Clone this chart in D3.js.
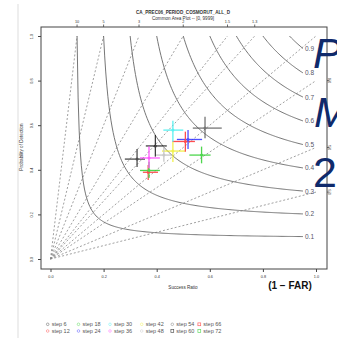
<!DOCTYPE html>
<html>
<head>
<meta charset="utf-8">
<script src="https://cdn.jsdelivr.net/npm/d3@7"></script>
<style>
  html, body { margin: 0; padding: 0; background: #fff; }
  svg { display: block; font-family: "Liberation Sans", Arial, sans-serif; }
</style>
</head>
<body>
<svg id="chart" width="337" height="347"></svg>
<script>
// forecast steps shown in the legend
const steps = [6, 12, 18, 24, 30, 36, 42, 48, 54, 60, 66, 72];
// success ratio (1 - FAR) and its spread
const successRatio = [0.326, 0.368, 0.371, 0.518, 0.461, 0.371, 0.461, 0.427, 0.582, 0.395, 0.508, 0.569];
const srLow  = [0.280, 0.348, 0.337, 0.476, 0.425, 0.337, 0.420, 0.394, 0.536, 0.359, 0.459, 0.523];
const srHigh = [0.356, 0.405, 0.412, 0.571, 0.500, 0.412, 0.507, 0.461, 0.645, 0.438, 0.544, 0.603];
// probability of detection and its spread
const pod     = [0.448, 0.389, 0.397, 0.536, 0.578, 0.453, 0.484, 0.466, 0.587, 0.507, 0.527, 0.466];
const podLow  = [0.413, 0.354, 0.363, 0.493, 0.526, 0.408, 0.435, 0.436, 0.541, 0.459, 0.481, 0.429];
const podHigh = [0.493, 0.422, 0.436, 0.578, 0.620, 0.504, 0.525, 0.504, 0.638, 0.556, 0.571, 0.504];
// reference lines
const biasValues = [0.3, 0.5, 0.8, 1, 1.3, 1.5, 2, 3, 5, 10];
const topBiasLabels = [10, 5, 3, 2, 1.5, 1.3];
const rightBiasLabels = [0.8, 0.5, 0.3];
const csiValues = [0.1, 0.2, 0.3, 0.4, 0.5, 0.6, 0.7, 0.8, 0.9];
const axisTicks = [0, 0.2, 0.4, 0.6, 0.8, 1.0];

const colors = ['#222', '#f22', '#2c2', '#22f', '#3ee', '#f3f', '#ee2', '#bbb', '#555', '#111', '#f22', '#2c2'];
const shapes = ['c', 'c', 'c', 'c', 'c', 'c', 'c', 'c', 'c', 's', 's', 's'];

const svg = d3.select('#chart');
const x = d3.scaleLinear().domain([0, 1]).range([50.5, 316]);
const y = d3.scaleLinear().domain([0, 1]).range([259, 36]);
const box = { left: 41, right: 327, top: 27, bottom: 269 };

// faint slide edge on the left
svg.append('line')
  .attr('x1', 18).attr('x2', 18).attr('y1', 4).attr('y2', 338)
  .attr('stroke', '#ddd').attr('stroke-width', 1);

// title
svg.append('text').attr('x', 183).attr('y', 14).attr('text-anchor', 'middle')
  .attr('font-size', 4.6).attr('font-weight', 'bold').attr('fill', '#333')
  .text('CA_PREC06_PERIOD_COSMORUT_ALL_D');
svg.append('text').attr('x', 183).attr('y', 19.5).attr('text-anchor', 'middle')
  .attr('font-size', 4.6).attr('fill', '#333')
  .text('Common Area Plot -- [0, 9999]');

// bias lines
const biasEnd = b => (b >= 1 ? [1 / b, 1] : [1, b]);
svg.append('g').selectAll('line')
  .data(biasValues)
  .enter()
  .append('line')
  .attr('x1', x(0)).attr('y1', y(0))
  .attr('x2', d => x(biasEnd(d)[0]))
  .attr('y2', d => y(biasEnd(d)[1]))
  .attr('stroke', '#888')
  .attr('stroke-width', 0.8)
  .attr('stroke-dasharray', '2,2');

// CSI contours
const line = d3.line().x(d => x(d[0])).y(d => y(d[1]));
csiValues.forEach(c => {
  const pts = d3.range(c, 0.9515, 0.004).concat([0.951]).map(sr => [sr, 1 / (1 / c + 1 - 1 / sr)]);
  svg.append('path')
    .attr('d', line(pts))
    .attr('fill', 'none')
    .attr('stroke', '#666')
    .attr('stroke-width', 0.9);
  const last = pts[pts.length - 1];
  svg.append('text')
    .attr('x', x(last[0]) + 2).attr('y', y(last[1]) + 2.5)
    .attr('font-size', 6.5).attr('fill', '#556')
    .text(d3.format('.1f')(c));
});

// plot box
svg.append('rect')
  .attr('x', box.left).attr('y', box.top)
  .attr('width', box.right - box.left).attr('height', box.bottom - box.top)
  .attr('fill', 'none').attr('stroke', '#444').attr('stroke-width', 1);

// bottom axis
const xAxis = svg.append('g').attr('transform', `translate(0,${box.bottom})`)
  .call(d3.axisBottom(x).tickValues(axisTicks).tickFormat(d3.format('.1f')).tickSize(3).tickPadding(3));
xAxis.select('.domain').remove();
xAxis.selectAll('text').attr('font-size', 3.8).attr('fill', '#333');
xAxis.selectAll('line').attr('stroke', '#444');

// left axis
const yAxis = svg.append('g').attr('transform', `translate(${box.left},0)`)
  .call(d3.axisLeft(y).tickValues(axisTicks).tickFormat(d3.format('.1f')).tickSize(3).tickPadding(0));
yAxis.select('.domain').remove();
yAxis.selectAll('line').attr('stroke', '#444');
yAxis.selectAll('.tick text')
  .attr('font-size', 3.8).attr('fill', '#333')
  .attr('text-anchor', 'middle').attr('dy', 0).attr('x', 0).attr('y', 0)
  .attr('transform', 'translate(-8,0) rotate(-90)');

// top axis: frequency bias
const topG = svg.append('g');
topG.selectAll('line').data(topBiasLabels).enter().append('line')
  .attr('x1', d => x(1 / d)).attr('x2', d => x(1 / d))
  .attr('y1', box.top).attr('y2', box.top - 2.5)
  .attr('stroke', '#444').attr('stroke-width', 0.8);
topG.selectAll('text').data(topBiasLabels).enter().append('text')
  .attr('x', d => x(1 / d)).attr('y', 23)
  .attr('text-anchor', 'middle').attr('font-size', 3.8).attr('fill', '#333')
  .text(d => d);

// right axis: frequency bias
const rightG = svg.append('g');
rightG.selectAll('line').data(rightBiasLabels).enter().append('line')
  .attr('x1', box.right).attr('x2', box.right + 2.5)
  .attr('y1', d => y(d)).attr('y2', d => y(d))
  .attr('stroke', '#444').attr('stroke-width', 0.8);
rightG.selectAll('text').data(rightBiasLabels).enter().append('text')
  .attr('transform', d => `translate(331,${y(d)}) rotate(-90)`)
  .attr('text-anchor', 'middle').attr('font-size', 3.8).attr('fill', '#333')
  .text(d => d);

// axis titles
svg.append('text').attr('x', 183).attr('y', 289).attr('text-anchor', 'middle')
  .attr('font-size', 4.6).attr('fill', '#333').text('Success Ratio');
svg.append('text').attr('transform', 'translate(23,147) rotate(-90)').attr('text-anchor', 'middle')
  .attr('font-size', 4.6).attr('fill', '#333').text('Probability of Detection');
svg.append('text').attr('x', 290).attr('y', 289).attr('text-anchor', 'middle')
  .attr('font-size', 10).attr('font-weight', 'bold').attr('fill', '#111').text('(1 \u2212 FAR)');

// error crosses
const idx = d3.range(steps.length);
const marks = svg.append('g').attr('opacity', 0.8);
marks.selectAll('.hbar').data(idx).enter().append('line')
  .attr('x1', i => x(srLow[i])).attr('x2', i => x(srHigh[i]))
  .attr('y1', i => y(pod[i])).attr('y2', i => y(pod[i]))
  .attr('stroke', i => colors[i]).attr('stroke-width', 1.3);
marks.selectAll('.vbar').data(idx).enter().append('line')
  .attr('x1', i => x(successRatio[i])).attr('x2', i => x(successRatio[i]))
  .attr('y1', i => y(podLow[i])).attr('y2', i => y(podHigh[i]))
  .attr('stroke', i => colors[i]).attr('stroke-width', 1.3);
marks.selectAll('circle').data(idx).enter().append('circle')
  .attr('cx', i => x(successRatio[i])).attr('cy', i => y(pod[i]))
  .attr('r', 1.5).attr('fill', i => colors[i]);

// legend
const legendCols = [47.7, 78.5, 110, 141.7, 172.3, 199.3];
const legendRows = [324.3, 331];
const legend = svg.append('g');
idx.forEach(i => {
  const col = Math.floor(i / 2);
  const row = i % 2;
  const lx = legendCols[col];
  const ly = legendRows[row];
  if (shapes[i] === 'c') {
    legend.append('circle').attr('cx', lx).attr('cy', ly).attr('r', 1.3)
      .attr('fill', 'none').attr('stroke', colors[i]).attr('stroke-width', 0.6).attr('opacity', 0.6);
  } else {
    legend.append('rect').attr('x', lx - 1.4).attr('y', ly - 1.4).attr('width', 2.8).attr('height', 2.8)
      .attr('fill', 'none').attr('stroke', colors[i]).attr('stroke-width', 0.7).attr('opacity', 0.7);
  }
  legend.append('text').attr('x', lx + 4).attr('y', ly + 1.9)
    .attr('font-size', 5.5).attr('fill', '#555').text('step ' + steps[i]);
});

// slide text behind the chart window
const slide = svg.append('g').attr('fill', '#0f2a6b').attr('font-family', '"Liberation Sans", Arial, sans-serif');
slide.append('text').attr('x', 313).attr('y', 68).attr('font-size', 43).attr('font-style', 'italic').text('P');
slide.append('text').attr('x', 314).attr('y', 127).attr('font-size', 43).attr('font-style', 'italic').text('M');
slide.append('text').attr('x', 313).attr('y', 187).attr('font-size', 43).text('2');
</script>
</body>
</html>
